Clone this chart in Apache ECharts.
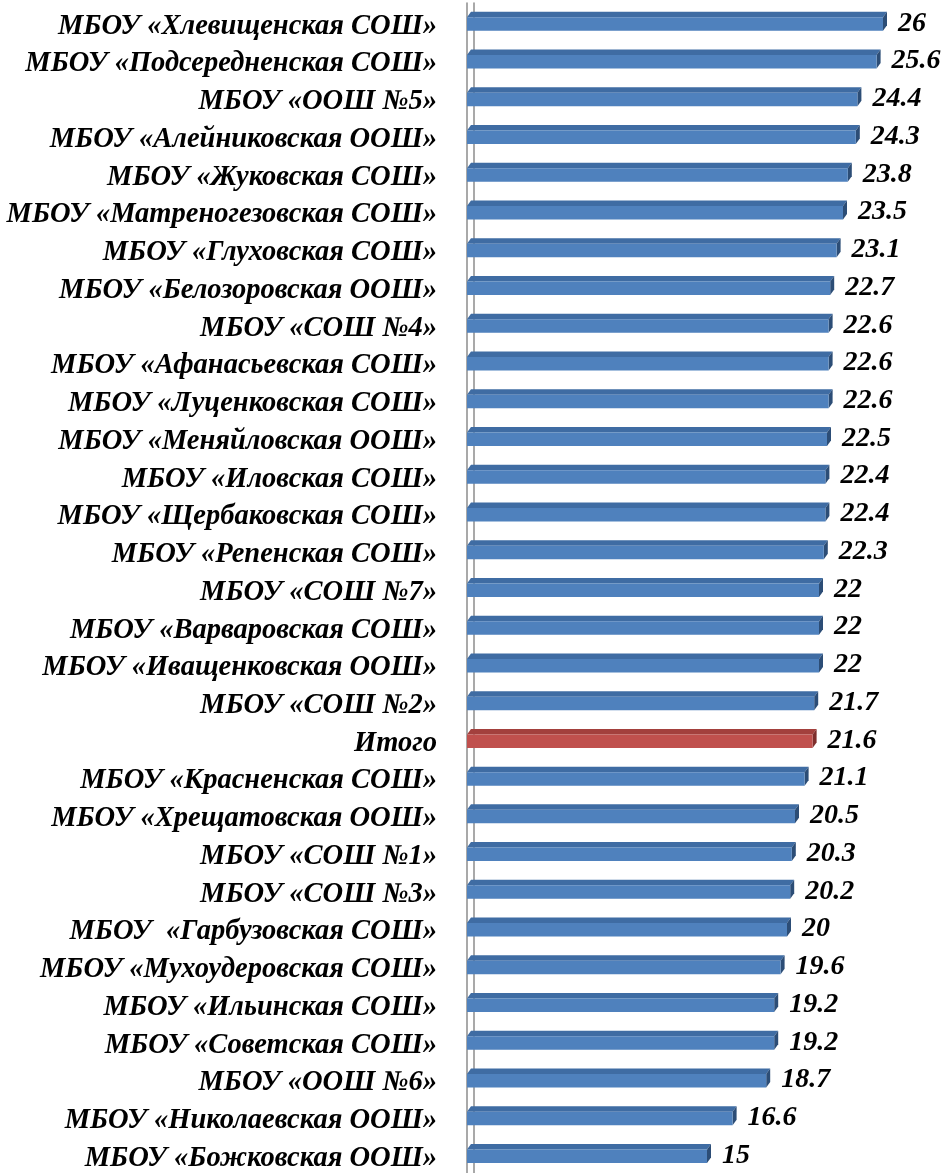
<!DOCTYPE html>
<html><head><meta charset="utf-8">
<script src="https://cdn.jsdelivr.net/npm/echarts@6/dist/echarts.min.js"></script>
<style>html,body{margin:0;padding:0;background:#fff;}#c{width:945px;height:1173px;}</style>
</head><body><div id="c"></div>
<script>
const categories = [
  'МБОУ «Хлевищенская СОШ»','МБОУ «Подсередненская СОШ»','МБОУ «ООШ №5»','МБОУ «Алейниковская ООШ»',
  'МБОУ «Жуковская СОШ»','МБОУ «Матреногезовская СОШ»','МБОУ «Глуховская СОШ»','МБОУ «Белозоровская ООШ»',
  'МБОУ «СОШ №4»','МБОУ «Афанасьевская СОШ»','МБОУ «Луценковская СОШ»','МБОУ «Меняйловская ООШ»',
  'МБОУ «Иловская СОШ»','МБОУ «Щербаковская СОШ»','МБОУ «Репенская СОШ»','МБОУ «СОШ №7»',
  'МБОУ «Варваровская СОШ»','МБОУ «Иващенковская ООШ»','МБОУ «СОШ №2»','Итого',
  'МБОУ «Красненская СОШ»','МБОУ «Хрещатовская ООШ»','МБОУ «СОШ №1»','МБОУ «СОШ №3»',
  'МБОУ  «Гарбузовская СОШ»','МБОУ «Мухоудеровская СОШ»','МБОУ «Ильинская СОШ»','МБОУ «Советская СОШ»',
  'МБОУ «ООШ №6»','МБОУ «Николаевская ООШ»','МБОУ «Божковская ООШ»'
];
const values = [26,25.6,24.4,24.3,23.8,23.5,23.1,22.7,22.6,22.6,22.6,22.5,22.4,22.4,22.3,22,22,22,21.7,21.6,21.1,20.5,20.3,20.2,20,19.6,19.2,19.2,18.7,16.6,15];
const totalCategory = 'Итого';

const serif = '"Liberation Serif","Times New Roman",serif';
const blue = {front:'#4F81BD', top:'#3F6CA3', side:'#2C4D76'};
const red = {front:'#C0504D', top:'#A3403D', side:'#7E2E2C'};

const chart = echarts.init(document.getElementById('c'), null, {renderer:'canvas'});
chart.setOption({
  animation:false,
  grid:{left:467, top:3, width:464, height:1171, containLabel:false},
  xAxis:{type:'value', min:0, max:29, show:false},
  yAxis:[
    {type:'category', data:categories, inverse:true, offset:6,
     axisLine:{show:true, lineStyle:{color:'#8c8c8c', width:1.5}},
     axisTick:{show:false}, splitLine:{show:false},
     axisLabel:{margin:24, color:'#000', fontFamily:serif, fontStyle:'italic', fontWeight:'bold', fontSize:28.5,
       formatter:function(v){return '{a|' + v + '}';},
       rich:{a:{color:'#000', fontFamily:serif, fontStyle:'italic', fontWeight:'bold', fontSize:28.5, padding:[9,0,0,0]}}}},
    {type:'category', data:categories, inverse:true, offset:-7, position:'left',
     axisLine:{show:true, lineStyle:{color:'#8c8c8c', width:1.5}},
     axisTick:{show:false}, axisLabel:{show:false}, splitLine:{show:false}}
  ],
  series:[{
    type:'custom',
    z:10,
    data: values.map((v,i)=>[v,i]),
    encode:{x:0, y:1},
    renderItem:function(params, api){
      const v = api.value(0), idx = api.value(1);
      const end = api.coord([v, idx]);
      const start = api.coord([0, idx]);
      const c = end[1];
      const x0 = start[0], x1 = end[0];
      const d = 4, dy = 5.5;
      const t = c - 4.5, b = c + 9;
      const col = categories[idx] === totalCategory ? red : blue;
      return {type:'group', children:[
        {type:'polygon', shape:{points:[[x0,t],[x0+d,t-dy],[x1+d,t-dy],[x1,t]]}, style:{fill:col.top}},
        {type:'polygon', shape:{points:[[x1,t],[x1+d,t-dy],[x1+d,b-dy],[x1,b]]}, style:{fill:col.side}},
        {type:'rect', shape:{x:x0, y:t, width:x1-x0, height:b-t}, style:{fill:col.front}},
        {type:'text', x:x1+d+11, y:c+1.5, style:{text:String(v), fill:'#000', font:'italic bold 28px '+serif, textVerticalAlign:'middle', textAlign:'left'}}
      ]};
    }
  }]
});
</script></body></html>
